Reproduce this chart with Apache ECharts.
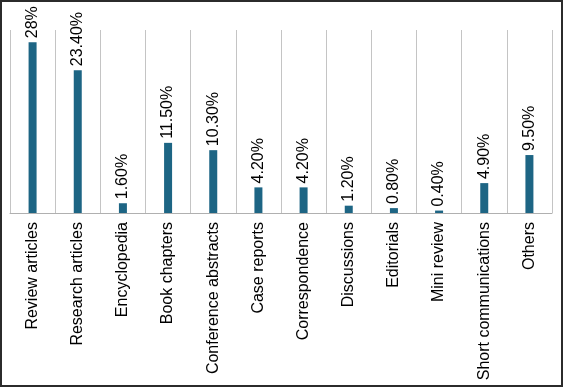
<!DOCTYPE html>
<html>
<head>
<meta charset="utf-8">
<script src="https://cdn.jsdelivr.net/npm/echarts@6/dist/echarts.min.js"></script>
<style>
html,body{margin:0;padding:0;background:#fff;}
#wrap{width:563px;height:387px;box-sizing:border-box;border:2px solid #2b2b2b;}
#chart{width:559px;height:383px;}
</style>
</head>
<body>
<div id="wrap"><div id="chart"></div></div>
<script>
const categories = ["Review articles","Research articles","Encyclopedia","Book chapters","Conference abstracts","Case reports","Correspondence","Discussions","Editorials","Mini review","Short communications","Others"];
const values = [28, 23.4, 1.6, 11.5, 10.3, 4.2, 4.2, 1.2, 0.8, 0.4, 4.9, 9.5];
const valueLabels = ["28%","23.40%","1.60%","11.50%","10.30%","4.20%","4.20%","1.20%","0.80%","0.40%","4.90%","9.50%"];

const chart = echarts.init(document.getElementById('chart'), null, {renderer:'canvas'});
chart.setOption({
  animation:false,
  textStyle:{fontFamily:'Liberation Sans, Arial, sans-serif'},
  grid:{left:8, top:28, width:542, height:183, containLabel:false},
  xAxis:{
    type:'category',
    data:categories,
    boundaryGap:true,
    axisLine:{show:true, lineStyle:{color:'#b0b0b0', width:1}},
    axisTick:{show:false},
    splitLine:{show:true, lineStyle:{color:'#c4c4c4', width:1}},
    axisLabel:{rotate:90, interval:0, margin:9, color:'#000', fontSize:16, fontFamily:'Liberation Sans, Arial, sans-serif'}
  },
  yAxis:{
    type:'value', min:0, max:30, show:false,
    splitLine:{show:false}
  },
  series:[{
    type:'bar',
    data:values,
    barWidth:8,
    itemStyle:{color:'#1d6584'},
    label:{
      show:true, position:'top', rotate:90, align:'left', verticalAlign:'middle', distance:4,
      color:'#000', fontSize:16, fontFamily:'Liberation Sans, Arial, sans-serif',
      formatter:(p)=>valueLabels[p.dataIndex]
    }
  }]
});
</script>
</body>
</html>
